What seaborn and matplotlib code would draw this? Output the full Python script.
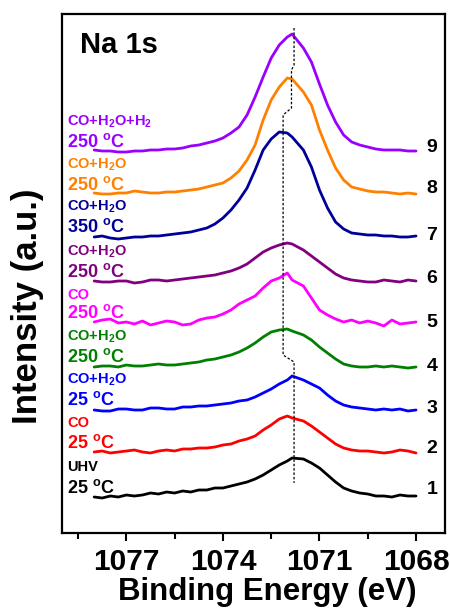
import numpy as np
import pandas as pd
import matplotlib
matplotlib.use("Agg")
import matplotlib.pyplot as plt
import matplotlib.transforms as mtransforms
from matplotlib.ticker import MultipleLocator
import seaborn as sns

# ---------------- data ----------------
energy = [1078, 1077.75, 1077.5, 1077.25, 1077, 1076.75, 1076.5, 1076.25, 1076,
          1075.75, 1075.5, 1075.25, 1075, 1074.75, 1074.5, 1074.25, 1074,
          1073.75, 1073.5, 1073.25, 1073, 1072.75, 1072.5, 1072.25, 1072, 1071.85,
          1071.5, 1071.25, 1071, 1070.75, 1070.5, 1070.25, 1070,
          1069.75, 1069.5, 1069.25, 1069, 1068.75, 1068.5, 1068.25, 1068]

spec1 = [36, 35, 37, 36, 38, 37, 38, 40, 39, 41, 40, 42, 41, 43, 43, 45, 45,
         47, 49, 51, 54, 58, 63, 68, 72, 75, 74, 70, 65, 58, 51, 45, 42,
         40, 39, 37, 37, 36, 38, 37, 37]
spec2 = [81, 82, 80, 81, 82, 83, 81, 80, 82, 83, 82, 84, 84, 85, 85, 86, 88,
         89, 92, 94, 97, 103, 108, 114, 117, 115, 112, 107, 101, 95, 89, 85, 83,
         82, 82, 81, 80, 81, 83, 82, 80]
spec3 = [123, 122, 122, 124, 124, 123, 123, 125, 125, 124, 124, 126, 126, 127, 127, 128, 129,
         130, 132, 133, 136, 140, 144, 149, 153, 157, 153, 149, 145, 138, 132, 128, 126,
         125, 124, 123, 124, 123, 124, 122, 123]
spec4 = [166, 167, 167, 166, 168, 167, 167, 168, 169, 168, 168, 169, 170, 171, 173, 174, 176,
         178, 181, 185, 190, 196, 201, 203, 204, 202, 198, 193, 186, 180, 174, 169, 167,
         166, 166, 167, 166, 167, 166, 165, 166]
spec5 = [211, 213, 214, 210, 211, 209, 212, 208, 210, 212, 211, 208, 209, 213, 215, 216, 219,
         223, 229, 233, 237, 245, 252, 255, 260, 253, 247, 235, 223, 218, 214, 211, 213,
         210, 212, 210, 207, 213, 209, 210, 211]
spec6 = [252, 251, 251, 252, 252, 250, 251, 253, 253, 252, 253, 254, 255, 256, 257, 258, 260,
         262, 265, 269, 275, 281, 285, 288, 290, 289, 283, 277, 271, 265, 259, 255, 253,
         252, 251, 251, 253, 252, 251, 253, 252]
spec7 = [296, 297, 295, 294, 295, 296, 296, 297, 297, 298, 299, 300, 301, 303, 305, 309, 315,
         323, 333, 345, 363, 383, 394, 401, 400, 396, 383, 366, 343, 325, 311, 304, 300,
         299, 298, 298, 297, 297, 296, 296, 297]
spec8 = [340, 339, 339, 340, 340, 342, 341, 340, 340, 341, 341, 342, 343, 344, 346, 348, 350,
         355, 362, 373, 388, 413, 433, 446, 455, 454, 441, 428, 403, 383, 365, 353, 346,
         344, 342, 341, 341, 340, 339, 340, 339]
spec9 = [383, 382, 382, 381, 381, 382, 382, 383, 383, 384, 384, 385, 387, 388, 390, 392, 395,
         400, 406, 418, 436, 456, 475, 488, 496, 499, 485, 471, 449, 428, 411, 398, 391,
         388, 386, 384, 383, 383, 383, 382, 382]

spectra = [spec1, spec2, spec3, spec4, spec5, spec6, spec7, spec8, spec9]
numbers = ["1", "2", "3", "4", "5", "6", "7", "8", "9"]
gas_labels = ["UHV", "CO", r"CO+H$_2$O", r"CO+H$_2$O", "CO", r"CO+H$_2$O",
              r"CO+H$_2$O", r"CO+H$_2$O", r"CO+H$_2$O+H$_2$"]
temp_labels = ["25", "25", "25", "250", "250", "250", "350", "250", "250"]

# peak-position guide line
guide_energy = [1071.79, 1071.79, 1071.87, 1071.87, 1072.13, 1072.13, 1071.79, 1071.79]
guide_height = [505, 468, 463, 425, 418, 178, 171, 50]

# ---------------- styles / layout ----------------
colors = ["#000000", "#FF0000", "#0000FF", "#008000", "#FF00FF",
          "#800080", "#000099", "#FF8000", "#9900FF"]
gas_y = [467, 423, 380, 337, 295, 252, 207, 165, 122]    # pixel rows
temp_y = [488, 443, 400, 357, 313, 272, 227, 185, 142]
num_y = [490, 448, 408, 366, 322, 278, 235, 188, 147]

sns.set_theme(style="white")
plt.rcParams["font.family"] = ["Liberation Sans", "DejaVu Sans"]
plt.rcParams["font.weight"] = "bold"
plt.rcParams["text.color"] = "black"
plt.rcParams["axes.labelcolor"] = "black"
plt.rcParams["xtick.color"] = "black"
plt.rcParams["mathtext.fontset"] = "custom"
plt.rcParams["mathtext.rm"] = "Liberation Sans:bold"
plt.rcParams["mathtext.bf"] = "Liberation Sans:bold"
plt.rcParams["mathtext.it"] = "Liberation Sans:bold"
plt.rcParams["mathtext.default"] = "bf"

W, H = 450, 608
AX_L, AX_R, AX_T, AX_B = 62, 445, 14, 533
fig = plt.figure(figsize=(W / 100, H / 100), dpi=100)
ax = fig.add_axes([AX_L / W, 1 - AX_B / H, (AX_R - AX_L) / W, (AX_B - AX_T) / H])

rows = []
for n, s in zip(numbers, spectra):
    for e, v in zip(energy, s):
        rows.append({"energy": e, "intensity": v, "spectrum": n})
df = pd.DataFrame(rows)

sns.lineplot(data=df, x="energy", y="intensity", hue="spectrum", hue_order=numbers,
             palette=colors, estimator=None, sort=False, legend=False,
             linewidth=2.0, ax=ax)

ax.plot(guide_energy, guide_height, color="black", lw=0.9, ls=(0, (2, 1.5)))

ax.set_xlim(1079, 1067.1)
ax.set_ylim(0, AX_B - AX_T)
ax.set_yticks([])
ax.xaxis.set_minor_locator(MultipleLocator(1.5))
ax.set_xticks([1077, 1074, 1071, 1068])
ax.tick_params(axis="x", which="major", direction="out", length=6, width=1.5,
               labelsize=21.5, pad=5, bottom=True, color="black", labelcolor="black")
ax.tick_params(axis="x", which="minor", direction="out", length=4, width=1.5,
               bottom=True, color="black")
for lab in ax.get_xticklabels():
    lab.set_fontweight("bold")
for sp in ax.spines.values():
    sp.set_visible(True)
    sp.set_linewidth(1.6)
    sp.set_color("black")

ax.set_xlabel("Binding Energy (eV)", fontsize=22.5, fontweight="bold", color="black")
ax.set_ylabel("Intensity (a.u.)", fontsize=25, fontweight="bold", color="black")
ax.xaxis.set_label_coords((267 - AX_L) / (AX_R - AX_L), (AX_B - 577) / (AX_B - AX_T))
ax.yaxis.set_label_coords((44 - AX_L) / (AX_R - AX_L), (AX_B - 306) / (AX_B - AX_T))

trans = mtransforms.blended_transform_factory(ax.transAxes, ax.transData)
for i in range(9):
    c = colors[i]
    ax.text((67 - AX_L) / (AX_R - AX_L), AX_B - gas_y[i], gas_labels[i], color=c,
            fontsize=10.5, fontweight="bold", ha="left", va="center", transform=trans)
    ax.text((67 - AX_L) / (AX_R - AX_L), AX_B - temp_y[i], temp_labels[i] + r" $^{o}$C",
            color=c, fontsize=13, fontweight="bold", ha="left", va="center",
            transform=trans)
    ax.text((432 - AX_L) / (AX_R - AX_L), AX_B - num_y[i], numbers[i], color="black",
            fontsize=14, fontweight="bold", ha="center", va="center", transform=trans)

ax.text((80 - AX_L) / (AX_R - AX_L), (AX_B - 45) / (AX_B - AX_T), "Na 1s",
        fontsize=21, fontweight="bold", ha="left", va="center", color="black",
        transform=ax.transAxes)

fig.savefig("out.png", dpi=100)
